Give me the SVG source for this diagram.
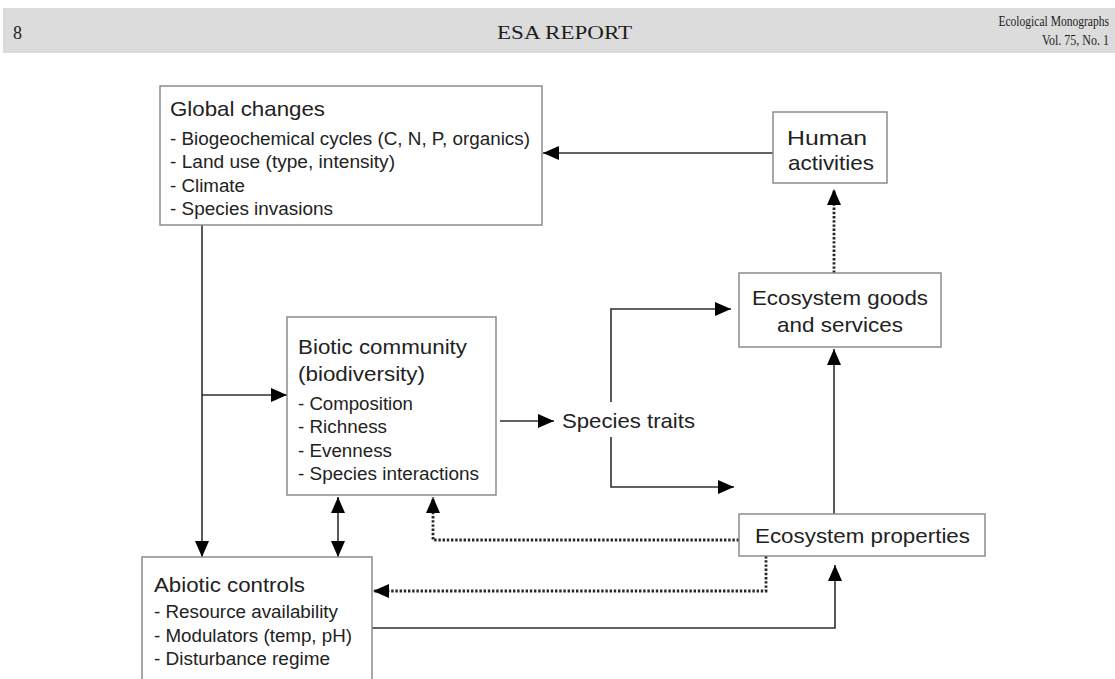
<svg xmlns="http://www.w3.org/2000/svg" width="1115" height="679" viewBox="0 0 1115 679">
<style>
.box{fill:#fff;stroke:#8c8c8c;stroke-width:1.5}
.t{font-family:"Liberation Sans",Arial,sans-serif;fill:#222}
.h{font-size:21px}
.i{font-size:17.5px}
.ser{font-family:"Liberation Serif","Times New Roman",serif;fill:#1e1e1e}
.ln{fill:none;stroke:#2e2e2e;stroke-width:1.6}
.dot{fill:none;stroke:#262626;stroke-width:2.8;stroke-dasharray:2.4 1.8}
</style>
<defs>
<marker id="ah" markerUnits="userSpaceOnUse" markerWidth="17" markerHeight="17" viewBox="0 0 17 17" refX="16" refY="8.5" orient="auto">
<path d="M0,1.5 L16,8.5 L0,15.5 Z" fill="#000"/>
</marker>
<marker id="ahs" markerUnits="userSpaceOnUse" markerWidth="17" markerHeight="17" viewBox="0 0 17 17" refX="1" refY="8.5" orient="auto">
<path d="M17,1.5 L1,8.5 L17,15.5 Z" fill="#000"/>
</marker>
</defs>
<rect width="1115" height="679" fill="#fff"/>
<g id="header">
<rect x="3" y="8" width="1112" height="45" fill="#dcdcdc"/>
<text class="ser" x="13" y="39" font-size="18">8</text>
<text class="ser" x="497" y="39" font-size="19" textLength="135" lengthAdjust="spacingAndGlyphs">ESA REPORT</text>
<text class="ser" transform="translate(1109,26) scale(0.77,1)" x="0" y="0" font-size="15" text-anchor="end">Ecological Monographs</text>
<text class="ser" transform="translate(1109,45) scale(0.8,1)" x="0" y="0" font-size="15" text-anchor="end">Vol. 75, No. 1</text>
</g>
<g id="connectors">
<path class="ln" d="M773,153 H543" marker-end="url(#ah)"/>
<path class="dot" d="M834,273 V189" marker-end="url(#ah)"/>
<path class="ln" d="M202,225 V557" marker-end="url(#ah)"/>
<path class="ln" d="M202,395 H287" marker-end="url(#ah)"/>
<path class="ln" d="M500,421 H554" marker-end="url(#ah)"/>
<path class="ln" d="M611,402 V309 H731" marker-end="url(#ah)"/>
<path class="ln" d="M611,437 V487 H734" marker-end="url(#ah)"/>
<path class="ln" d="M834,514 V349" marker-end="url(#ah)"/>
<path class="ln" d="M338,497 V557" marker-start="url(#ahs)" marker-end="url(#ah)"/>
<path class="ln" d="M372,628 H835 V565" marker-end="url(#ah)"/>
<path class="dot" d="M739,540 H433 V497" marker-end="url(#ah)"/>
<path class="dot" d="M766,556 V591 H373" marker-end="url(#ah)"/>
</g>
<g id="global-changes">
<rect class="box" x="160" y="86" width="382" height="139"/>
<text class="t h" x="170" y="116" textLength="155" lengthAdjust="spacingAndGlyphs">Global changes</text>
<text class="t i" x="170" y="145" textLength="360" lengthAdjust="spacingAndGlyphs">- Biogeochemical cycles (C, N, P, organics)</text>
<text class="t i" x="170" y="168" textLength="225" lengthAdjust="spacingAndGlyphs">- Land use (type, intensity)</text>
<text class="t i" x="170" y="192" textLength="75" lengthAdjust="spacingAndGlyphs">- Climate</text>
<text class="t i" x="170" y="215" textLength="163" lengthAdjust="spacingAndGlyphs">- Species invasions</text>
</g>
<g id="human-activities">
<rect class="box" x="773" y="112" width="114" height="71"/>
<text class="t h" x="787" y="145" textLength="80" lengthAdjust="spacingAndGlyphs">Human</text>
<text class="t h" x="788" y="170" textLength="86" lengthAdjust="spacingAndGlyphs">activities</text>
</g>
<g id="ecosystem-goods">
<rect class="box" x="739" y="273" width="202" height="74"/>
<text class="t h" x="752" y="305" textLength="176" lengthAdjust="spacingAndGlyphs">Ecosystem goods</text>
<text class="t h" x="777" y="332" textLength="126" lengthAdjust="spacingAndGlyphs">and services</text>
</g>
<g id="biotic-community">
<rect class="box" x="287" y="317" width="209" height="178"/>
<text class="t h" x="298" y="354" textLength="169" lengthAdjust="spacingAndGlyphs">Biotic community</text>
<text class="t h" x="298" y="381" textLength="127" lengthAdjust="spacingAndGlyphs">(biodiversity)</text>
<text class="t i" x="298" y="410" textLength="115" lengthAdjust="spacingAndGlyphs">- Composition</text>
<text class="t i" x="298" y="433" textLength="89" lengthAdjust="spacingAndGlyphs">- Richness</text>
<text class="t i" x="298" y="457" textLength="94" lengthAdjust="spacingAndGlyphs">- Evenness</text>
<text class="t i" x="298" y="480" textLength="181" lengthAdjust="spacingAndGlyphs">- Species interactions</text>
</g>
<g id="species-traits">
<text class="t h" x="562" y="428" textLength="133" lengthAdjust="spacingAndGlyphs">Species traits</text>
</g>
<g id="ecosystem-properties">
<rect class="box" x="739" y="514" width="246" height="42"/>
<text class="t h" x="755" y="543" textLength="215" lengthAdjust="spacingAndGlyphs">Ecosystem properties</text>
</g>
<g id="abiotic-controls">
<rect class="box" x="142" y="557" width="230" height="140"/>
<text class="t h" x="154" y="592" textLength="151" lengthAdjust="spacingAndGlyphs">Abiotic controls</text>
<text class="t i" x="154" y="618" textLength="184" lengthAdjust="spacingAndGlyphs">- Resource availability</text>
<text class="t i" x="154" y="642" textLength="198" lengthAdjust="spacingAndGlyphs">- Modulators (temp, pH)</text>
<text class="t i" x="154" y="665" textLength="176" lengthAdjust="spacingAndGlyphs">- Disturbance regime</text>
</g>
</svg>
